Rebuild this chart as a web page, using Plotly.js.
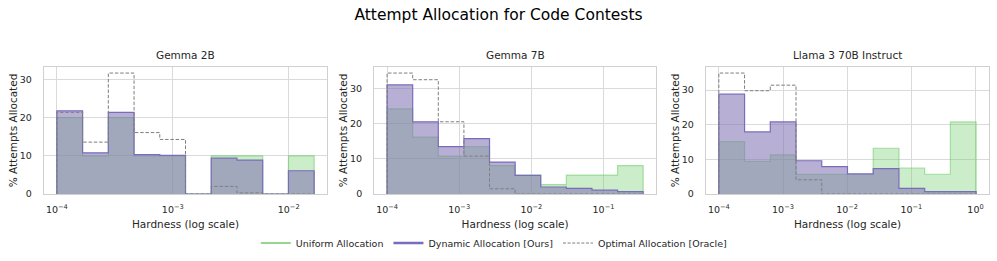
<!DOCTYPE html>
<html><head><meta charset="utf-8">
<script src="https://cdn.plot.ly/plotly-3.0.1.min.js"></script>
<style>html,body{margin:0;padding:0;background:#fff;}#chart{width:997px;height:261px;}</style>
</head><body><div id="chart"></div>
<script>
const chartTitle = 'Attempt Allocation for Code Contests';
const panelTitles = ['Gemma 2B', 'Gemma 7B', 'Llama 3 70B Instruct'];
const seriesNames = ['Uniform Allocation', 'Dynamic Allocation [Ours]', 'Optimal Allocation [Oracle]'];
const xAxisLabel = 'Hardness (log scale)';
const yAxisLabel = '% Attempts Allocated';

// bin edges (hardness, log-spaced histogram bins)
const gemma2bEdges = [1.0e-4, 1.6672e-4, 2.7796e-4, 4.634e-4, 7.726e-4, 1.2881e-3, 2.1475e-3, 3.580e-3, 5.969e-3, 9.952e-3, 1.6592e-2];
const gemma7bEdges = [1.0e-4, 2.2646e-4, 5.1284e-4, 1.16137e-3, 2.6300e-3, 5.9560e-3, 1.34880e-2, 3.0545e-2, 6.9172e-2, 0.15665, 0.35474];
const llamaEdges   = [1.0e-4, 2.5177e-4, 6.3388e-4, 1.59592e-3, 4.0180e-3, 1.01161e-2, 2.5469e-2, 6.4124e-2, 0.16144, 0.40646, 1.0233];

// % attempts allocated per bin
const gemma2bUniform = [20, 10, 20, 10, 10, 0, 10, 10, 0, 10];
const gemma2bDynamic = [21.8, 10.8, 21.4, 10.3, 10.1, 0, 9.4, 8.9, 0, 6.1];
const gemma2bOracle  = [21.4, 13.6, 31.7, 16.1, 14.3, 0, 2.0, 0.3, 0, 0];

const gemma7bUniform = [24.3, 16.2, 10.8, 13.5, 8.1, 5.4, 2.7, 5.4, 5.4, 8.1];
const gemma7bDynamic = [31.1, 20.6, 13.5, 15.8, 9.1, 5.3, 2.0, 1.6, 1.1, 0.7];
const gemma7bOracle  = [34.5, 32.6, 20.6, 10.8, 1.5, 0, 0, 0, 0, 0];

const llamaUniform = [15.1, 9.4, 11.3, 5.7, 5.7, 5.7, 13.2, 7.5, 5.7, 20.8];
const llamaDynamic = [28.8, 17.9, 20.8, 9.6, 7.9, 5.8, 7.3, 1.6, 0.7, 0.7];
const llamaOracle  = [34.9, 29.8, 31.4, 4.1, 0, 0, 0, 0, 0, 0];

// tick values / labels
const gemma2bTickVals = [1e-4, 1e-3, 1e-2];
const gemma2bTickText = ['10<sup>−4</sup>', '10<sup>−3</sup>', '10<sup>−2</sup>'];
const gemma7bTickVals = [1e-4, 1e-3, 1e-2, 1e-1];
const gemma7bTickText = ['10<sup>−4</sup>', '10<sup>−3</sup>', '10<sup>−2</sup>', '10<sup>−1</sup>'];
const llamaTickVals = [1e-4, 1e-3, 1e-2, 1e-1, 1];
const llamaTickText = ['10<sup>−4</sup>', '10<sup>−3</sup>', '10<sup>−2</sup>', '10<sup>−1</sup>', '10<sup>0</sup>'];
const yTickVals = [0, 10, 20, 30];
const yTickText = ['0', '10', '20', '30'];

const panels = [
  {edges: gemma2bEdges, u: gemma2bUniform, d: gemma2bDynamic, o: gemma2bOracle, tv: gemma2bTickVals, tt: gemma2bTickText},
  {edges: gemma7bEdges, u: gemma7bUniform, d: gemma7bDynamic, o: gemma7bOracle, tv: gemma7bTickVals, tt: gemma7bTickText},
  {edges: llamaEdges,   u: llamaUniform,   d: llamaDynamic,   o: llamaOracle,   tv: llamaTickVals,   tt: llamaTickText}
];

const domains = [[0, 0.2995], [0.3495, 0.6476], [0.7005, 1]];
const txt = '#262626';
const gridC = '#dadada';
const font = 'DejaVu Sans, sans-serif';

function stepXY(edges, vals) {
  const x = [edges[0]], y = [0];
  for (let i = 0; i < vals.length; i++) { x.push(edges[i]); y.push(vals[i]); }
  x.push(edges[edges.length - 1]); y.push(vals[vals.length - 1]);
  x.push(edges[edges.length - 1]); y.push(0);
  return {x, y};
}
function logSpan(edges) {
  const a = Math.log10(edges[0]), b = Math.log10(edges[edges.length - 1]);
  const m = 0.05 * (b - a);
  return [a - m, b + m];
}

const traces = [];
const layout = {
  width: 997, height: 261,
  margin: {l: 44, r: 8, t: 67, b: 67, autoexpand: false},
  paper_bgcolor: '#fff', plot_bgcolor: '#fff',
  font: {family: font, color: txt},
  showlegend: true,
  title: {text: chartTitle, font: {family: font, size: 15.5, color: '#000'}, x: 0.5, xref: 'container', xanchor: 'center', y: 0.945, yref: 'container', yanchor: 'middle'},
  legend: {orientation: 'h', x: 0.476, xref: 'paper', xanchor: 'center', y: -0.386, yanchor: 'middle', font: {size: 9.5, color: txt}, bgcolor: 'rgba(0,0,0,0)', itemwidth: 30},
  annotations: []
};

panels.forEach((p, i) => {
  const xa = 'x' + (i ? i + 1 : ''), ya = 'y' + (i ? i + 1 : '');
  const su = stepXY(p.edges, p.u), sd = stepXY(p.edges, p.d), so = stepXY(p.edges, p.o);
  traces.push({x: su.x, y: su.y, xaxis: xa, yaxis: ya, type: 'scatter', mode: 'lines', line: {shape: 'hv', color: 'rgba(106,204,100,0.55)', width: 1.2}, fill: 'tozeroy', fillcolor: 'rgba(106,204,100,0.35)', showlegend: false, hoverinfo: 'skip'});
  traces.push({x: sd.x, y: sd.y, xaxis: xa, yaxis: ya, type: 'scatter', mode: 'lines', line: {shape: 'hv', color: 'rgb(122,108,188)', width: 1.2}, fill: 'tozeroy', fillcolor: 'rgba(129,114,179,0.56)', showlegend: false, hoverinfo: 'skip'});
  traces.push({x: so.x, y: so.y, xaxis: xa, yaxis: ya, type: 'scatter', mode: 'lines', line: {shape: 'hv', color: '#7f7f7f', width: 1, dash: '3.5px,1.8px'}, showlegend: false, hoverinfo: 'skip'});
  const ymax = 1.05 * Math.max(...p.u, ...p.d, ...p.o);
  layout['xaxis' + (i ? i + 1 : '')] = {
    type: 'log', domain: domains[i], range: logSpan(p.edges), anchor: ya,
    tickmode: 'array', tickvals: p.tv, ticktext: p.tt, ticks: '', ticklabelstandoff: 6,
    tickfont: {size: 9.5, color: txt},
    showgrid: true, gridcolor: gridC, gridwidth: 1, zeroline: false,
    showline: true, mirror: true, linecolor: '#d0d0d0', linewidth: 1.2,
    title: {text: xAxisLabel, font: {size: 10.5, color: txt}, standoff: 6.5},
    automargin: false
  };
  layout['yaxis' + (i ? i + 1 : '')] = {
    domain: [0, 1], range: [0, ymax], anchor: xa,
    tickmode: 'array', tickvals: yTickVals, ticktext: yTickText, ticks: '', ticklabelstandoff: 9,
    tickfont: {size: 9.5, color: txt},
    showgrid: true, gridcolor: gridC, gridwidth: 1, zeroline: false,
    showline: true, mirror: true, linecolor: '#d0d0d0', linewidth: 1.2,
    title: {text: yAxisLabel, font: {size: 10.5, color: txt}, standoff: 0},
    automargin: false
  };
  layout.annotations.push({text: panelTitles[i], xref: 'paper', yref: 'paper', x: (domains[i][0] + domains[i][1]) / 2, y: 1.094, xanchor: 'center', yanchor: 'middle', showarrow: false, font: {size: 10.5, color: txt}});
});

// legend entries (line keys, as in the reference legend)
traces.push({x: [null], y: [null], type: 'scatter', mode: 'lines', name: seriesNames[0], line: {color: 'rgb(150,215,144)', width: 2}, hoverinfo: 'skip'});
traces.push({x: [null], y: [null], type: 'scatter', mode: 'lines', name: seriesNames[1], line: {color: 'rgb(120,108,188)', width: 2.6}, hoverinfo: 'skip'});
traces.push({x: [null], y: [null], type: 'scatter', mode: 'lines', name: seriesNames[2], line: {color: '#7f7f7f', width: 1, dash: '3px,1.6px'}, hoverinfo: 'skip'});

Plotly.newPlot('chart', traces, layout, {staticPlot: true, displayModeBar: false});
</script></body></html>
